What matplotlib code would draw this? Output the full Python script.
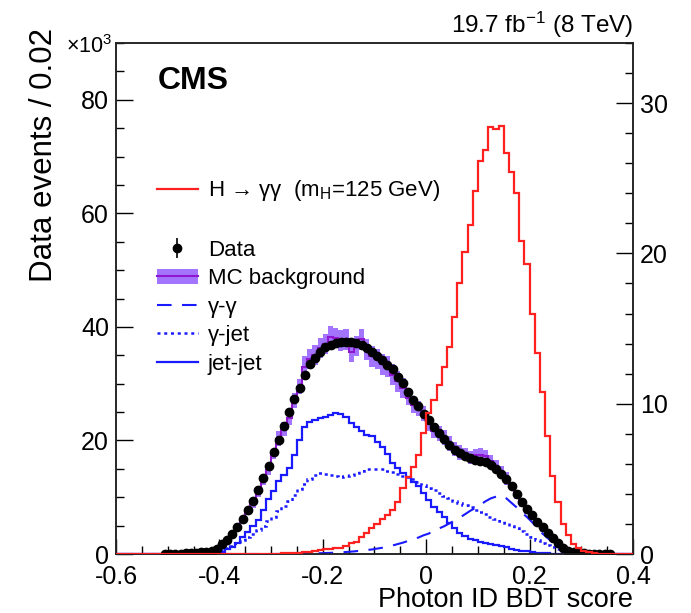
import numpy as np
import matplotlib
matplotlib.use("Agg")
import matplotlib.pyplot as plt
from matplotlib.lines import Line2D
from matplotlib.patches import Patch
from matplotlib.ticker import MultipleLocator, FuncFormatter

plt.rcParams["font.family"] = ["Liberation Sans", "DejaVu Sans"]
plt.rcParams["mathtext.fontset"] = "custom"
plt.rcParams["mathtext.rm"] = "Liberation Sans"
plt.rcParams["mathtext.it"] = "Liberation Sans:italic"
plt.rcParams["axes.unicode_minus"] = False

# 100 bins of 0.01 from -0.6 to 0.4; background values in units of 10^3 events
edges = np.linspace(-0.6, 0.4, 101)
nan = np.nan

data = [nan] * 9 + [
    0.05, 0.05, 0.06, 0.08, 0.10, 0.15, 0.22, 0.30, 0.42, 0.60,
    0.85, 1.7, 2.5, 3.6, 4.8, 6.1, 7.8, 9.3, 11.3, 13.3,
    15.5, 17.9, 20.1, 22.6, 25.0, 27.3, 29.3, 31.6, 33.4, 34.5,
    35.5, 36.4, 36.8, 37.1, 37.3, 37.4, 37.4, 37.2, 36.8, 36.2,
    35.5, 34.9, 34.1, 33.3, 32.5, 31.1, 30.1, 28.5, 27.1, 26.1,
    24.6, 23.6, 22.3, 21.3, 20.3, 19.2, 18.3, 17.8, 17.2, 16.85,
    16.6, 16.4, 16.2, 15.7, 14.9, 14.1, 13.2, 12.0, 10.6, 9.2,
    8.0, 6.9, 5.7, 4.7, 3.7, 2.75, 1.9, 1.05, 0.6, 0.32,
    0.2, 0.12, 0.08, 0.05, 0.04, 0.03, 0.02,
] + [nan] * 4

mc_bkg = [0.0] * 9 + [
    0.04, 0.05, 0.06, 0.08, 0.10, 0.14, 0.20, 0.28, 0.40, 0.60,
    0.9, 1.6, 2.4, 3.5, 4.6, 5.8, 7.4, 9.0, 11.0, 13.0,
    14.8, 17.6, 20.3, 22.0, 24.0, 27.0, 29.5, 33.0, 34.3, 35.0,
    36.3, 37.0, 38.3, 38.0, 37.6, 37.8, 35.6, 36.6, 37.8, 36.0,
    34.8, 34.3, 33.4, 33.0, 31.6, 30.4, 29.2, 27.5, 26.2, 25.6,
    24.8, 23.0, 21.7, 21.2, 20.5, 19.4, 18.5, 17.9, 17.6, 17.0,
    17.4, 17.5, 17.2, 16.3, 15.4, 14.4, 13.3, 11.9, 10.4, 9.0,
    7.8, 6.7, 5.6, 4.6, 3.5, 2.5, 1.7, 1.0, 0.55, 0.30,
    0.18, 0.10, 0.07, 0.05, 0.03, 0.02, 0.02,
] + [0.0] * 4

mc_err = [0.0] * 15 + [0.3] * 5 + [0.6] * 6 + [0.9] * 5 + [1.3] * 5 \
    + [1.8] * 20 + [1.3] * 11 + [1.1] * 9 + [0.7] * 7 + [0.4] * 6 \
    + [0.15] * 7 + [0.0] * 4

gg = [0.0] * 31 + [
    0.01, 0.02, 0.03, 0.04, 0.05, 0.07, 0.09, 0.11, 0.14,
    0.17, 0.20, 0.25, 0.30, 0.35, 0.42, 0.50, 0.60, 0.70, 0.80,
    0.95, 1.1, 1.3, 1.5, 1.75, 2.0, 2.3, 2.6, 2.9, 3.3,
    3.6, 4.1, 4.5, 4.9, 5.4, 5.9, 6.4, 7.0, 7.6, 8.1,
    8.7, 9.3, 9.8, 10.1, 10.3, 9.8, 9.0, 8.2, 7.3, 6.5,
    5.6, 4.6, 3.6, 2.8, 2.0, 1.3, 0.8, 0.45, 0.25, 0.12,
    0.06,
] + [0.0] * 9

gj = [0.0] * 15 + [
    0.05, 0.10, 0.20, 0.35, 0.50,
    0.7, 1.0, 1.4, 1.9, 2.5, 3.0, 3.6, 4.3, 5.0, 5.8,
    6.6, 7.5, 8.4, 9.4, 10.4, 11.4, 12.3, 13.2, 13.9, 14.2,
    14.1, 13.9, 13.7, 13.6, 13.7, 14.0, 14.3, 14.6, 14.9, 15.0,
    15.0, 14.9, 14.7, 14.4, 14.1, 13.8, 13.5, 13.2, 12.7, 12.2,
    11.7, 11.2, 10.7, 10.2, 9.8, 9.4, 9.0, 8.6, 8.2, 7.8,
    7.4, 7.0, 6.6, 6.2, 5.8, 5.4, 5.0, 4.5, 4.0, 3.5,
    3.0, 2.5, 2.0, 1.6, 1.2, 0.9, 0.6, 0.4, 0.25, 0.15,
    0.08, 0.04,
] + [0.0] * 8

jj = [0.0] * 18 + [
    0.1, 0.2,
    0.4, 0.8, 1.3, 2.0, 3.05, 3.9, 4.9, 6.0, 7.75, 9.6,
    11.1, 12.9, 14.0, 15.1, 17.4, 20.1, 22.4, 23.3, 23.6, 23.9,
    24.1, 24.5, 24.8, 24.7, 24.2, 23.0, 22.4, 21.6, 21.0, 20.7,
    19.8, 18.9, 17.6, 16.0, 15.1, 14.2, 13.5, 12.75, 11.9, 10.7,
    9.5, 8.3, 7.45, 6.6, 5.4, 4.5, 3.65, 3.2, 2.7, 2.4,
    2.1, 1.9, 1.7, 1.5, 1.35, 1.15, 0.95, 0.75, 0.6, 0.45,
    0.35, 0.25, 0.18, 0.12, 0.08, 0.05, 0.03, 0.02, 0.01,
] + [0.0] * 11

# signal, right-hand scale
signal = [0.0] * 30 + [
    0.02, 0.03, 0.04, 0.05, 0.07, 0.09, 0.12, 0.15, 0.20, 0.25,
    0.30, 0.33, 0.38, 0.42, 0.53, 0.71, 0.82, 1.15, 1.38, 1.71,
    2.0, 2.3, 2.6, 2.93, 3.48, 4.37, 5.15, 5.8, 6.59, 8.03,
    9.36, 10.25, 11.24, 12.46, 13.8, 15.75, 18.0, 20.1, 21.9, 24.15,
    26.15, 26.9, 28.4, 28.25, 28.5, 26.65, 25.4, 24.0, 20.8, 19.3,
    15.95, 13.4, 10.8, 7.85, 5.2, 3.46, 2.0, 1.26, 0.67, 0.38,
    0.2, 0.1, 0.05, 0.03,
] + [0.0] * 6

centers = 0.5 * (edges[:-1] + edges[1:])

BLUE = "#1a1aff"
RED = "#ff2020"
PURPLE = "#8f17d0"
BAND = "#9966ff"

fig = plt.figure(figsize=(6.91, 6.13), dpi=100)
ax = fig.add_axes([116 / 691, 59 / 613, 517 / 691, 511 / 613])
ax2 = ax.twinx()

mc = np.array(mc_bkg)
err = np.array(mc_err)
ax.stairs(mc + err, edges, baseline=mc - err, fill=True, color=BAND,
          alpha=0.9, lw=0, zorder=2)
ax.stairs(mc_bkg, edges, color=PURPLE, lw=1.5, zorder=3)
ax.stairs(jj, edges, color=BLUE, lw=1.6, zorder=3)
ax.stairs(gj, edges, color=BLUE, lw=1.8, ls=(0, (1.2, 1.5)), zorder=3)
ax.plot(centers, gg, color=BLUE, lw=1.5, ls=(0, (7, 5)), zorder=3)
ax.plot(centers, data, "o", color="black", ms=6, zorder=5)
ax2.stairs(signal, edges, color=RED, lw=1.6, zorder=3)

ax.set_xlim(-0.6, 0.4)
ax.set_ylim(0, 90)
ax2.set_ylim(0, 34)

ax.xaxis.set_major_locator(MultipleLocator(0.2))
ax.xaxis.set_minor_locator(MultipleLocator(0.05))
ax.xaxis.set_major_formatter(FuncFormatter(lambda v, p: f"{v:g}" if abs(v) > 1e-9 else "0"))
ax.yaxis.set_major_locator(MultipleLocator(20))
ax.yaxis.set_minor_locator(MultipleLocator(5))
ax2.yaxis.set_major_locator(MultipleLocator(10))
ax2.yaxis.set_minor_locator(MultipleLocator(2))

ax.tick_params(axis="x", which="both", direction="in", top=False, labelsize=18, pad=8)
ax.tick_params(axis="x", which="major", length=11, width=1)
ax.tick_params(axis="x", which="minor", length=6, width=1)
ax.tick_params(axis="y", which="both", direction="in", right=False, labelsize=18, pad=5)
ax.tick_params(axis="y", which="major", length=12, width=1)
ax.tick_params(axis="y", which="minor", length=6, width=1)
ax2.tick_params(axis="y", which="both", direction="in", labelsize=18, pad=5)
ax2.tick_params(axis="y", which="major", length=12, width=1)
ax2.tick_params(axis="y", which="minor", length=6, width=1)
for a in (ax, ax2):
    for s in a.spines.values():
        s.set_linewidth(1.1)
        s.set_color("#222222")

fig.text(44 / 691, 1 - 28 / 613, "Data events / 0.02", rotation=90,
         ha="center", va="top", fontsize=22.5)
fig.text(633 / 691, 1 - 600 / 613, "Photon ID BDT score", ha="right",
         va="center", fontsize=19.5)
fig.text(112 / 691, 1 - 47 / 613, r"×10$^{3}$", ha="right", va="center", fontsize=15.5)
fig.text(633 / 691, 1 - 25 / 613, r"19.7 fb$^{-1}$ (8 TeV)", ha="right",
         va="center", fontsize=17.5)
ax.text(0.081, 0.925, "CMS", transform=ax.transAxes, fontsize=23,
        fontweight="bold", ha="left", va="center")

handles = [
    Line2D([], [], color=RED, lw=1.6),
    Line2D([], [], ls="none"),
    (Line2D([], [], color="black", marker="|", ms=15, mew=1.2, ls="none"),
     Line2D([], [], color="black", marker="o", ms=6, ls="none")),
    (Patch(facecolor=BAND, alpha=0.9, lw=0), Line2D([], [], color=PURPLE, lw=1.5)),
    Line2D([], [], color=BLUE, lw=1.5, ls=(0, (7, 5))),
    Line2D([], [], color=BLUE, lw=1.8, ls=(0, (1.2, 1.5))),
    Line2D([], [], color=BLUE, lw=1.6),
]
labels = [
    r"H → γγ  (m$_{\mathrm{H}}$=125 GeV)",
    " ",
    "Data",
    "MC background",
    "γ-γ",
    "γ-jet",
    "jet-jet",
]
ax.legend(handles, labels, loc="upper left", bbox_to_anchor=(0.079, 0.735),
          frameon=False, fontsize=16, handlelength=1.85, handletextpad=0.45,
          labelspacing=0.34, borderpad=0, borderaxespad=0)

fig.savefig("out.png", dpi=100)
